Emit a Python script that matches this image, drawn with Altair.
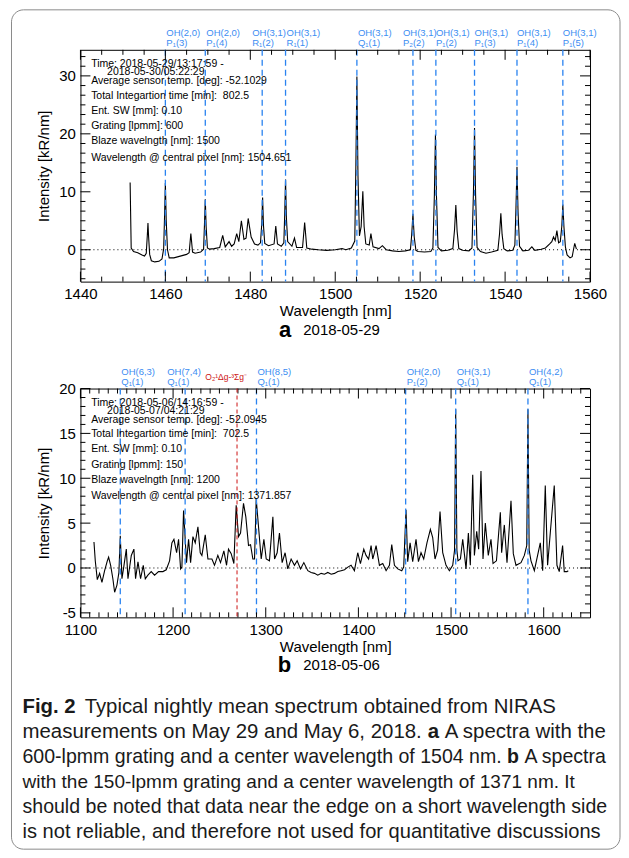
import altair as alt
import pandas as pd

FONT = "Liberation Sans"
BLUE = "#2a83f0"
LABEL_BLUE = "#3b8df2"
RED = "#cc1111"
W, HA, HB = 510, 232, 229

# ---------------- panel a : 2018-05-29, 600 lpmm ----------------
A_WL = [
    1451.7, 1451.95, 1452.5, 1453.5, 1454.5, 1455.1,
    1455.5, 1455.75, 1455.9, 1456.05, 1456.3,
    1456.7, 1457.5, 1458.5, 1459.2,
    1459.6, 1459.8, 1460.0, 1460.2, 1460.5,
    1460.9, 1462.0, 1463.5, 1465.0,
    1465.6, 1466.0, 1466.4, 1467.0, 1468.3,
    1469.0, 1469.2, 1469.4, 1469.6, 1469.9,
    1470.4, 1471.5, 1472.8, 1473.5, 1474.1, 1475.0, 1475.6,
    1476.2, 1476.8, 1477.3, 1477.9, 1478.5, 1479.0, 1479.5, 1480.2, 1481.0, 1481.8,
    1482.4, 1482.7, 1482.9, 1483.1, 1483.4,
    1484.3, 1485.6, 1486.0, 1486.4, 1487.3,
    1487.9, 1488.1, 1488.3, 1488.5, 1488.8,
    1489.8, 1490.4, 1490.9, 1492.3, 1492.8, 1493.3,
    1494.5, 1496.0, 1498.0, 1500.0, 1501.6, 1502.5, 1503.8,
    1504.6, 1504.85, 1505.1, 1505.35, 1505.7, 1506.1, 1506.5, 1506.8, 1507.2,
    1508.0, 1508.4, 1508.9, 1510.3, 1511.1, 1512.0,
    1513.5, 1515.0, 1516.5, 1517.7, 1518.0, 1518.3, 1518.6, 1519.0,
    1519.5, 1521.0, 1522.5, 1523.0, 1523.35, 1523.6, 1523.85, 1524.2,
    1525.0, 1526.5, 1527.7, 1528.1, 1528.4, 1528.7, 1529.1,
    1530.0, 1531.5, 1532.2, 1532.55, 1532.8, 1533.05, 1533.4,
    1534.2, 1535.5, 1536.8, 1538.3, 1538.7, 1539.0, 1539.3, 1539.7,
    1540.5, 1541.8, 1542.3, 1542.55, 1542.8, 1543.05, 1543.4,
    1544.2, 1545.5, 1546.3, 1547.0, 1548.5, 1549.5, 1550.5, 1551.0,
    1551.4, 1551.8, 1552.2, 1552.6, 1553.0, 1553.35, 1553.6, 1553.85, 1554.2,
    1554.6, 1555.3, 1555.8, 1556.1, 1556.4, 1556.8,
]
A_INT = [
    11.6, 0.3, -0.3, -0.5, -0.9, -1.1,
    -0.6, 2.5, 4.6, 2.3, -0.8,
    -1.9, -2.1, -2.0, -1.6,
    0.2, 5.5, 11.5, 5.0, 0.0,
    -1.4, -1.4, -1.1, -0.8,
    -0.5, 2.8, -0.4, -0.6, -0.4,
    0.1, 4.2, 8.7, 4.0, 0.3,
    0.1, 0.2, 0.4, 2.5, 0.5, 1.4, 0.6,
    1.0, 2.8, 1.4, 5.0, 1.8, 2.0, 5.4, 2.2, 1.0, 0.8,
    1.2, 4.5, 9.0, 4.2, 1.1,
    0.7, 1.0, 4.1, 1.0, 0.6,
    1.2, 6.0, 12.1, 5.5, 1.4,
    0.6, 2.0, 0.4, 0.4, 4.7, 0.3,
    0.1, 0.0, -0.1, 0.0, 0.2, 0.0, 0.3,
    1.5, 14.0, 29.9, 13.0, 2.4, 4.0, 10.1, 4.0, 1.0,
    0.8, 2.8, 0.5, 0.2, 0.7, 0.0,
    -0.2, -0.3, -0.2, 0.0, 2.5, 6.2, 2.2, -0.1,
    -0.3, -0.4, -0.3, 0.3, 9.5, 19.9, 9.0, 0.4,
    -0.2, -0.1, 0.2, 3.5, 7.7, 3.2, 0.2,
    -0.1, -0.2, 0.3, 10.0, 21.0, 9.5, 0.4,
    -0.3, -0.6, -0.4, -0.1, 2.8, 6.3, 2.6, 0.2,
    -0.2, -0.1, 0.8, 7.0, 14.3, 6.5, 0.6,
    -0.2, -0.1, 0.5, -0.1, 0.1, 0.3, 1.0, 1.4,
    2.2, 1.6, 3.3, 1.2, 1.4, 4.0, 7.8, 4.0, 0.5,
    -0.9, -1.4, -1.2, 0.0, 1.1, 0.1,
]
A_XDOM = [1440, 1560]
A_YDOM = [-5.5, 34.5]
A_XMAJ = [1440, 1460, 1480, 1500, 1520, 1540, 1560]
A_YMAJ = [0, 10, 20, 30]
A_LINE_WL = [1460.0, 1469.4, 1482.8, 1488.3, 1505.1, 1518.3, 1523.7, 1532.8, 1542.8, 1553.6]
A_LAB1 = ["OH(2,0)", "OH(2,0)", "OH(3,1)", "OH(3,1)", "OH(3,1)",
          "OH(3,1)", "OH(3,1)", "OH(3,1)", "OH(3,1)", "OH(3,1)"]
A_LAB2 = ["P\u2081(3)", "P\u2081(4)", "R\u2081(2)", "R\u2081(1)", "Q\u2081(1)",
          "P\u2082(2)", "P\u2081(2)", "P\u2081(3)", "P\u2081(4)", "P\u2081(5)"]
A_LAB_DX = [1, 1, -10, 1, 1, -10, 0, 0, 0, 0]
A_INFO = ["Time: 2018-05-29/13:17:59 -", "2018-05-30/05:22:29",
          "Average sensor temp. [deg]: -52.1029",
          "Total Integartion time [min]:\u00a0 802.5",
          "Ent. SW [mm]: 0.10", "Grating [lpmm]: 600",
          "Blaze wavelngth [nm]: 1500",
          "Wavelength @ central pixel [nm]: 1504.651"]

# ---------------- panel b : 2018-05-06, 150 lpmm ----------------
B_WL = [
    1114.6, 1116.0, 1118.2, 1120.7, 1123.2, 1126.1, 1129.0, 1130.4, 1132.6, 1135.0,
    1136.9, 1139.4, 1141.5, 1143.0, 1144.8, 1147.0, 1149.5, 1151.3, 1154.9, 1157.7,
    1159.5, 1162.1, 1164.9, 1167.8, 1170.0, 1172.8, 1176.4, 1180.0, 1184.3, 1189.0,
    1192.6, 1196.2, 1198.7, 1200.9, 1203.8, 1205.9, 1208.1, 1209.5, 1211.3, 1214.5,
    1216.7, 1218.9, 1221.4, 1223.9, 1226.8, 1229.3, 1231.1, 1234.7, 1237.6, 1241.9,
    1244.7, 1248.3, 1251.2, 1254.8, 1257.7, 1259.8, 1262.7, 1265.6, 1268.1, 1270.6,
    1272.8, 1276.0, 1278.5, 1281.4, 1283.6, 1286.1, 1287.9, 1289.7, 1292.2, 1295.1,
    1298.0, 1300.5, 1304.0, 1307.7, 1309.5, 1312.3, 1314.8, 1317.7, 1320.9, 1323.8,
    1327.4, 1331.0, 1333.9, 1337.5, 1341.1, 1345.4, 1349.0, 1352.6, 1356.2, 1359.8,
    1363.4, 1367.0, 1370.6, 1374.2, 1377.8, 1381.4, 1385.0, 1388.6, 1392.1, 1395.7,
    1399.3, 1402.2, 1405.8, 1408.3, 1411.0, 1413.7, 1415.5, 1417.3, 1419.1, 1422.7,
    1426.3, 1429.9, 1433.5, 1436.0, 1438.9, 1442.5, 1446.8, 1448.9, 1451.4, 1453.2,
    1455.8, 1458.6, 1462.2, 1464.8, 1467.6, 1470.5, 1474.0, 1477.7, 1480.2, 1482.7,
    1485.5, 1488.1, 1491.0, 1494.6, 1498.2, 1501.8, 1503.8, 1505.0, 1506.3, 1507.5,
    1510.1, 1512.6, 1516.2, 1518.7, 1520.8, 1523.4, 1525.2, 1527.7, 1529.8, 1532.3,
    1534.5, 1537.0, 1540.2, 1543.1, 1545.3, 1549.0, 1553.2, 1554.6, 1557.5, 1560.4,
    1564.7, 1567.2, 1570.1, 1575.5, 1579.1, 1581.7, 1583.0, 1584.3, 1586.3, 1589.9,
    1596.3, 1598.9, 1601.7, 1604.2, 1607.1, 1611.4, 1614.3, 1616.8, 1620.4, 1622.2,
    1625.1, 1626.5,
]
B_INT = [
    2.9, 0.8, -1.3, -0.6, -1.6, -0.3, 0.8, 1.2, 0.3, -1.2,
    -2.7, -1.9, -0.5, 3.6, -1.2, 0.3, 2.1, -1.2, 1.4, 2.1,
    -1.2, 0.7, -1.2, 0.3, -1.2, -0.8, -0.4, -0.8, -0.4, -0.4,
    -0.2, 0.8, 2.8, 3.2, 1.7, 3.2, -0.1, 0.1, 6.4, 0.6,
    3.2, 0.6, 3.5, 2.8, 4.6, 1.7, 1.4, 3.7, 1.0, 1.0,
    0.3, 1.4, 0.6, 1.9, 0.3, 2.1, 1.6, 0.5, 7.0, 3.5,
    3.9, 7.2, 5.7, 2.5, 2.6, 1.0, 1.0, 7.7, 4.6, 1.0,
    3.2, 1.0, 0.8, 5.7, 1.0, 1.7, 3.9, 0.6, 1.7, -0.1,
    1.0, 0.3, 0.8, -0.1, 0.6, -0.3, -0.5, -0.6, -0.8, -0.6,
    -0.7, -0.5, -0.7, -0.6, -0.4, -0.3, -0.2, 0.1, 0.3, -0.3,
    1.7, 0.5, 2.1, 1.4, 1.0, 2.5, 1.0, 1.7, 2.5, 0.3,
    0.5, -0.3, 0.3, 2.6, 0.3, -0.1, -0.3, 0.1, 6.5, 0.7,
    2.8, 0.7, 3.2, 0.7, 1.7, 1.0, 2.8, 4.3, 3.4, 1.0,
    2.0, 6.3, 1.7, 0.3, -0.3, 0.3, 2.0, 17.7, 2.0, 0.8,
    1.0, 3.2, -0.1, 3.9, 0.3, 10.4, 1.4, 4.1, 2.1, 10.8,
    1.0, 5.0, 1.4, 3.2, 0.5, 0.8, 6.2, 1.7, 4.8, 0.6,
    7.5, 1.6, 0.3, 0.6, 1.4, 2.5, 17.7, 2.0, 0.8, -0.3,
    2.8, -0.3, 9.2, 0.3, 3.9, 9.2, 0.3, -0.4, 2.5, -0.4,
    -0.4, -0.3,
]
B_XDOM = [1100, 1650]
B_YDOM = [-5.5, 20]
B_XMAJ = [1100, 1200, 1300, 1400, 1500, 1600]
B_YMAJ = [-5, 0, 5, 10, 15, 20]
B_LINE_WL = [1143.0, 1213.0, 1290.0, 1451.0, 1505.0, 1583.0]
B_LAB1 = ["OH(6,3)", "OH(7,4)", "OH(8,5)", "OH(2,0)", "OH(3,1)", "OH(4,2)"]
B_LAB2 = ["Q\u2081(1)", "Q\u2081(1)", "Q\u2081(1)", "P\u2081(2)", "Q\u2081(1)", "Q\u2081(1)"]
B_LAB_DX = [1, -18, 1, 1, 1, 1]
B_O2_WL = [1269.0]
B_O2_LAB = "O\u2082\u00b9\u0394g-\u00b3\u03a3g\u207b"
B_INFO = ["Time: 2018-05-06/14:16:59 -", "2018-05-07/04:21:29",
          "Average sensor temp. [deg]: -52.0945",
          "Total Integartion time [min]:\u00a0 702.5",
          "Ent. SW [mm]: 0.10", "Grating [lpmm]: 150",
          "Blaze wavelngth [nm]: 1200",
          "Wavelength @ central pixel [nm]: 1371.857"]

INFO_X = [10.7, 26.7, 10.7, 10.7, 10.7, 10.7, 10.7, 10.7]
INFO_Y = [14.5, 22.5, 31, 46, 61, 76.3, 91.7, 108]

CAPTION = [
    [("Fig. 2", True), ("Typical nightly mean spectrum obtained from NIRAS", False)],
    [("measurements on May 29 and May 6, 2018.", False), ("a", True), ("A spectra with the", False)],
    [("600-lpmm grating and a center wavelength of 1504 nm.", False), ("b", True), ("A spectra", False)],
    [("with the 150-lpmm grating and a center wavelength of 1371 nm. It", False)],
    [("should be noted that data near the edge on a short wavelength side", False)],
    [("is not reliable, and therefore not used for quantitative discussions", False)],
]
CAP_END = [557, 607, 607, 575, 607, 601]   # page x where each caption line ends

assert len(A_WL) == len(A_INT) and len(B_WL) == len(B_INT)

ONE = pd.DataFrame({"k": [0]})

# Arial / Liberation Sans advance widths (1/1000 em), used to lay out caption lines
_AR = dict(zip("abcdefghijklmnopqrstuvwxyz",
               [556, 556, 500, 556, 556, 278, 556, 556, 222, 222, 500, 222, 833,
                556, 556, 556, 556, 333, 500, 278, 556, 500, 722, 500, 500, 500]))
_AR.update({"A": 667, "F": 611, "I": 278, "M": 833, "N": 722, "R": 722, "S": 667,
            "T": 611, ".": 278, ",": 278, "-": 333, " ": 278})
_AR.update({d: 556 for d in "0123456789"})
_ARB = dict(_AR)
_ARB.update({"b": 611, "g": 611, "F": 611})


def tw(s, bold=False):
    tab = _ARB if bold else _AR
    return sum(tab.get(c, 556) for c in s) / 1000.0


def txt(s, x, y, size, weight="normal", align="left", color="black"):
    return alt.Chart(ONE).mark_text(
        text=s, align=align, baseline="middle", fontSize=size,
        fontWeight=weight, color=color, font=FONT
    ).encode(x=alt.value(x), y=alt.value(y))


def panel(wl, inten, xdom, ydom, xmaj, xmin, ymaj, ymin, height,
          lines_wl, lab1, lab2, lab_dx, info, letter, date):
    xs = alt.Scale(domain=xdom, nice=False, zero=False)
    ys = alt.Scale(domain=ydom, nice=False, zero=False)
    ax = alt.Axis(values=xmaj, format="d", labelPadding=5, labelFlush=False,
                  title="Wavelength [nm]", titleX=W / 2, titleY=29,
                  titleBaseline="middle", titleAlign="center")
    ay = alt.Axis(values=ymaj, labelExpr="datum.value", labelPadding=5,
                  title="Intensity [kR/nm]", titleX=-37, titleY=height / 2,
                  titleAngle=270, titleBaseline="middle", titleAlign="center")

    def X(f):
        return alt.X(f, scale=xs, axis=ax)

    def Y(f):
        return alt.Y(f, scale=ys, axis=ay)

    layers = []
    layers.append(alt.Chart(pd.DataFrame({"wl": wl, "I": inten})).mark_line(
        color="black", strokeWidth=1.1, clip=True
    ).encode(x=X("wl:Q"), y=Y("I:Q")))
    layers.append(alt.Chart(pd.DataFrame({"z": [0]})).mark_rule(
        color="black", strokeDash=[1, 3], strokeWidth=1
    ).encode(y=Y("z:Q")))
    ldf = pd.DataFrame({"wl": lines_wl})
    layers.append(alt.Chart(ldf).mark_rule(
        color=BLUE, strokeDash=[6, 4], strokeWidth=1.3
    ).encode(x=X("wl:Q")))
    for w_, a_, b_, d_ in zip(lines_wl, lab1, lab2, lab_dx):
        one = pd.DataFrame({"wl": [w_]})
        for s_, yy in ((a_, -17), (b_, -6.5)):
            layers.append(alt.Chart(one).mark_text(
                text=s_, align="left", baseline="middle", dx=d_, fontSize=9.5,
                font=FONT, color=LABEL_BLUE
            ).encode(x=X("wl:Q"), y=alt.value(yy)))

    # inward ticks on all four sides
    MAJ, MIN = 10, 5
    for vals, ln in ((xmaj, MAJ), (xmin, MIN)):
        d = pd.DataFrame({"v": vals})
        layers.append(alt.Chart(d).mark_rule(color="black", strokeWidth=1).encode(
            x=X("v:Q"), y=alt.value(height), y2=alt.value(height - ln)))
        layers.append(alt.Chart(d).mark_rule(color="black", strokeWidth=1).encode(
            x=X("v:Q"), y=alt.value(0), y2=alt.value(ln)))
    for vals, ln in ((ymaj, MAJ), (ymin, MIN)):
        d = pd.DataFrame({"v": vals})
        layers.append(alt.Chart(d).mark_rule(color="black", strokeWidth=1).encode(
            y=Y("v:Q"), x=alt.value(0), x2=alt.value(ln)))
        layers.append(alt.Chart(d).mark_rule(color="black", strokeWidth=1).encode(
            y=Y("v:Q"), x=alt.value(W), x2=alt.value(W - ln)))

    for s_, px, py in zip(info, INFO_X, INFO_Y):
        layers.append(txt(s_, px, py, 10.5))

    layers.append(txt(letter, 211, height + 48, 22, weight="bold", align="right"))
    layers.append(txt(date, 223, height + 48, 15))
    return layers, X, Y


A_XMIN = [v for v in range(1445, 1560, 5) if v % 20]
A_YMIN = [k * 10 / 6 for k in range(-3, 21) if k % 6]
B_XMIN = [v for v in range(1110, 1650, 10) if v % 100]
B_YMIN = [v for v in range(-5, 20) if v % 5]

la, XA, YA = panel(A_WL, A_INT, A_XDOM, A_YDOM, A_XMAJ, A_XMIN, A_YMAJ, A_YMIN, HA,
                   A_LINE_WL, A_LAB1, A_LAB2, A_LAB_DX, A_INFO, "a", "2018-05-29")
border = alt.Chart(ONE).mark_rect(
    filled=False, color="#8a8a8a", strokeWidth=1, cornerRadius=12
).encode(x=alt.value(-69), x2=alt.value(540), y=alt.value(-40), y2=alt.value(800))
panelA = alt.layer(*la, border).properties(width=W, height=HA)

lb, XB, YB = panel(B_WL, B_INT, B_XDOM, B_YDOM, B_XMAJ, B_XMIN, B_YMAJ, B_YMIN, HB,
                   B_LINE_WL, B_LAB1, B_LAB2, B_LAB_DX, B_INFO, "b", "2018-05-06")
o2 = pd.DataFrame({"wl": B_O2_WL})
o2rule = alt.Chart(o2).mark_rule(color=RED, strokeDash=[4, 3], strokeWidth=1).encode(
    x=XB("wl:Q"))
o2txt = alt.Chart(o2).mark_text(
    text=B_O2_LAB, align="right", baseline="middle", dx=10, fontSize=8.5, font=FONT, color=RED
).encode(x=XB("wl:Q"), y=alt.value(-12))

# caption: one text per segment, each line fitted to the reference line length
cap_layers = []
CAP_X0 = 22 - 80
CAP_Y0 = 319
CAP_DY = 25.0
for i, segs in enumerate(CAPTION):
    pos = []
    cur = 0.0
    for j, (s, bold) in enumerate(segs):
        if j > 0:
            cur += 0.5 if i == 0 else 0.278
        pos.append((s, cur, bold))
        cur += tw(s, bold)
    fs = (CAP_END[i] - 22) / cur
    for s, p, bold in pos:
        cap_layers.append(txt(s, CAP_X0 + p * fs, CAP_Y0 + i * CAP_DY, fs,
                              weight="bold" if bold else "normal", color="#1a1a1a"))

panelB = alt.layer(*lb, o2rule, o2txt, *cap_layers).properties(width=W, height=HB)

chart = alt.vconcat(panelA, panelB, spacing=107, bounds="flush").properties(
    padding={"left": 2.5, "top": 0.5, "right": 0, "bottom": 0}
).configure_view(stroke="black", strokeWidth=1).configure_axis(
    labelFont=FONT, titleFont=FONT, labelFontSize=15, titleFontSize=15,
    labelColor="black", titleColor="black", titleFontWeight="normal",
    grid=False, ticks=False, domain=False
)

chart.save("out.html", embed_options={"renderer": "svg", "actions": False})
